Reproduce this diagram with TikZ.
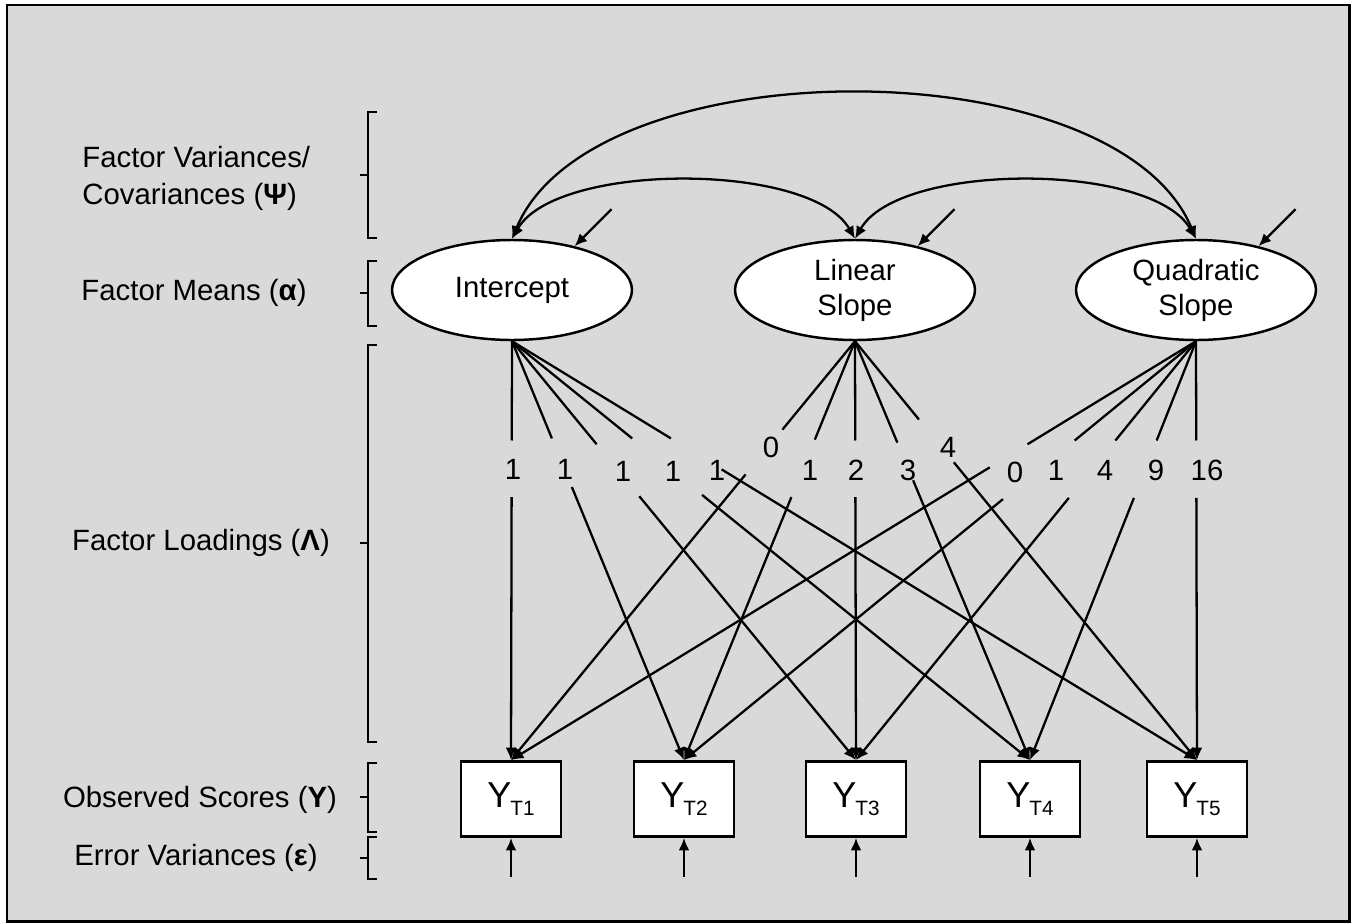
\documentclass[tikz,border=0pt]{standalone}
\usepackage{fontspec}
\setmainfont{Liberation Sans}
\usepackage{tikz}
\usetikzlibrary{arrows.meta,shapes.geometric}
\definecolor{panelgray}{RGB}{217,217,217}
\newcommand{\obsY}[1]{{\fontsize{20.5}{20}\selectfont Y}\kern-0.5pt\raisebox{-4.5pt}{\fontsize{11.8}{12}\selectfont T#1}}

\begin{document}
\begin{tikzpicture}[x=0.02cm,y=-0.02cm]
        \tikzset{factor/.style = {shape=ellipse,draw,fill=white,line width=1.4pt,minimum width=4.8cm,minimum height=2cm,inner sep=0pt,align=center,font=\fontsize{16.7}{20}\selectfont}}
        \tikzset{observed/.style = {shape=rectangle,draw,fill=white,line width=1.6pt,minimum width=2cm,minimum height=1.5cm,inner sep=0pt}}
        \tikzset{edge/.style = {->,> = {Latex[length=0.25cm,width=0.22cm]}, line width=1.3pt}}
        \tikzset{cov/.style = {<->,> = {Latex[length=0.25cm,width=0.22cm]}, line width=1.3pt}}
        \tikzset{load/.style = {line width=1.3pt}}
        \tikzset{brace/.style = {line width=1.2pt}}
        \tikzset{side/.style = {font=\fontsize{16.7}{21}\selectfont,inner sep=0pt}}
        \tikzset{num/.style = {font=\fontsize{16.7}{20}\selectfont,inner sep=0pt}}
        % frame
        \useasboundingbox (0,0) rectangle (1357,923);
        \draw[line width=1.7pt,fill=panelgray] (7,5) rectangle (1349,921);
        % factors
        \node[factor] (Int) at (512,290) {Intercept};
        \node[factor] (Lin) at (855,290) {Linear\\Slope};
        \node[factor] (Quad) at (1196,290) {Quadratic\\Slope};
        % observed scores
        \node[observed] (Y1) at (511,799) {\obsY{1}};
        \node[observed] (Y2) at (684,799) {\obsY{2}};
        \node[observed] (Y3) at (856,799) {\obsY{3}};
        \node[observed] (Y4) at (1030,799) {\obsY{4}};
        \node[observed] (Y5) at (1197,799) {\obsY{5}};
        % side labels
        \node[side,align=left,anchor=west] (lpsi) at (82,178) {Factor Variances/\\Covariances (\textbf{Ψ})};
        \node[side] (lalpha) at (194,293) {Factor Means (\textbf{α})};
        \node[side] (llambda) at (201,543) {Factor Loadings (\textbf{Λ})};
        \node[side] (ly) at (200,800) {Observed Scores (\textbf{Y})};
        \node[side] (leps) at (196,858) {Error Variances (\textbf{ε})};
        % brackets
        \draw[brace] (377,112) -- (368,112) -- (368,238) -- (377,238) (360,175) -- (368,175);
        \draw[brace] (377,261) -- (368,261) -- (368,326) -- (377,326) (360,293) -- (368,293);
        \draw[brace] (377,345) -- (368,345) -- (368,742) -- (377,742) (360,543) -- (368,543);
        \draw[brace] (377,763) -- (368,763) -- (368,832) -- (377,832) (360,797) -- (368,797);
        \draw[brace] (377,837) -- (368,837) -- (368,879) -- (377,879) (360,858) -- (368,858);
        % covariances
        \draw[cov] (Lin.north) .. controls +(-44,-77) and +(44,-77) .. (Int.north);
        \draw[cov] (Lin.north) .. controls +(44,-77) and +(-44,-77) .. (Quad.north);
        \draw[cov] (Int.north) .. controls +(80,-193) and +(-80,-193) .. (Quad.north);
        % variances
        \coordinate (vInt) at ([shift={(37,-37)}]Int.35);
        \coordinate (vLin) at ([shift={(37,-37)}]Lin.35);
        \coordinate (vQuad) at ([shift={(37,-37)}]Quad.35);
        \draw[edge] (vInt) -- (Int.35);
        \draw[edge] (vLin) -- (Lin.35);
        \draw[edge] (vQuad) -- (Quad.35);
        % loadings
        \foreach \f/\t/\a/\b in {Int/1/.237/.372, Int/2/.232/.348, Int/3/.246/.370, Int/4/.232/.367, Int/5/.232/.306,
                Lin/1/.211/.318, Lin/2/.235/.372, Lin/3/.237/.372, Lin/4/.242/.332, Lin/5/.187/.289,
                Quad/1/.246/.301, Quad/2/.237/.377, Quad/3/.237/.374, Quad/4/.237/.374, Quad/5/.237/.374}
        {
                \path (\f.south) -- (Y\t.north) coordinate[pos=\a] (gapA) coordinate[pos=\b] (gapB);
                \draw[load] (\f.south) -- (gapA);
                \draw[edge] (gapB) -- (Y\t.north);
        }
        % loading values
        \node[num] (i1) at (513,469) {1};
        \node[num] (i2) at (565,469) {1};
        \node[num] (i3) at (623,471) {1};
        \node[num] (i4) at (673,471) {1};
        \node[num] (i5) at (717,470) {1};
        \node[num] (s1) at (771,447) {0};
        \node[num] (s2) at (810,470) {1};
        \node[num] (s3) at (856,470) {2};
        \node[num] (s4) at (908,470) {3};
        \node[num] (s5) at (948,447) {4};
        \node[num] (q1) at (1015,472) {0};
        \node[num] (q2) at (1056,470) {1};
        \node[num] (q3) at (1105,470) {4};
        \node[num] (q4) at (1156,470) {9};
        \node[num] (q5) at (1207,470) {16};
        % errors
        \foreach \t/\x in {1/511, 2/684, 3/856, 4/1030, 5/1197}
        {
                \coordinate (e\t) at (\x,877);
                \draw[edge] (e\t) -- (Y\t.south);
        }
\end{tikzpicture}
\end{document}
